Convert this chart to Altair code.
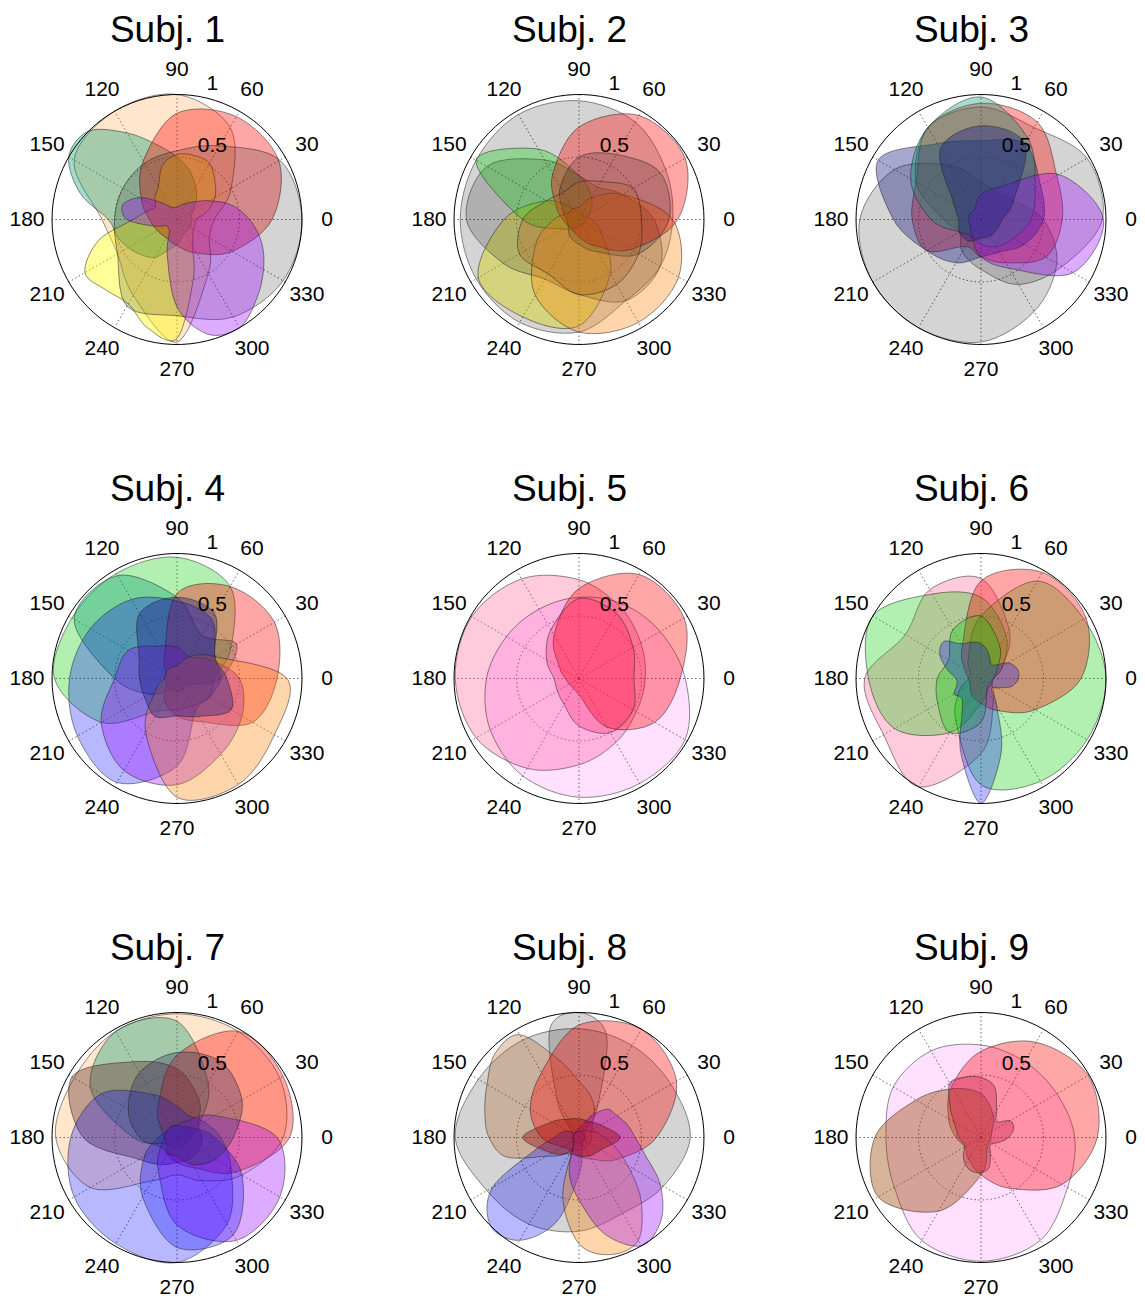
import altair as alt
import pandas as pd

FONT = "Liberation Sans, Arial, Helvetica, sans-serif"

TITLES = ["Subj. 1", "Subj. 2", "Subj. 3", "Subj. 4", "Subj. 5",
          "Subj. 6", "Subj. 7", "Subj. 8", "Subj. 9"]
SPOKE_ANGLES = [0, 30, 60, 90, 120, 150, 180, 210, 240, 270, 300, 330]
SPOKE_LABELS = ["0", "30", "60", "90", "120", "150", "180", "210", "240", "270", "300", "330"]
RING_VALUES = [0.5, 1.0]
RING_LABELS = ["0.5", "1"]

COLOR = {
    "red": "#ff0000", "gray": "#000000", "peach": "#ff8000", "teal": "#00996b",
    "yellow": "#ffff00", "purple": "#9900ff", "blue": "#0000ff", "navy": "#1a1a80",
    "green": "#00cc00", "orange": "#ff8000", "pink": "#ff6699", "lavender": "#ff00ff",
    "rose": "#ff0055", "brown": "#994400", "darkred": "#990000", "darkpink": "#cc2255",
    "slate": "#333366", "tan": "#b06020", "umber": "#663333",
}
ALPHA = {
    "red": 0.35, "gray": 0.17, "peach": 0.2, "teal": 0.35, "yellow": 0.4, "purple": 0.33,
    "blue": 0.28, "navy": 0.38, "green": 0.3, "orange": 0.33, "pink": 0.35, "lavender": 0.12,
    "rose": 0.24, "brown": 0.4, "darkred": 0.4, "darkpink": 0.4, "slate": 0.35, "tan": 0.3,
    "umber": 0.4,
}

# radii sampled at equally spaced angles starting at 0 deg (counter-clockwise)
SUBJ1 = [
    ("peach", [0.3, 0.5, 0.85, 1.0, 1.0, 0.95, 0.6, 0.55, 0.7, 0.98, 0.5, 0.3]),
    ("teal", [0.12, 0.12, 0.15, 0.22, 0.3, 0.4, 0.5, 0.62, 0.8, 1.0, 1.0, 0.8,
              0.55, 0.5, 0.45, 0.4, 0.35, 0.25, 0.2, 0.15, 0.12, 0.12, 0.12, 0.12]),
    ("yellow", [0.15, 0.25, 0.35, 0.43, 0.52, 0.53, 0.52, 0.45, 0.3, 0.25, 0.2, 0.25,
                0.35, 0.65, 0.85, 0.8, 0.78, 0.9, 0.95, 0.5, 0.25, 0.18, 0.15, 0.15]),
    ("red", [0.76, 0.94, 0.95, 0.85, 0.54, 0.33, 0.22, 0.18, 0.17, 0.21, 0.31, 0.51]),
    ("gray", [1.0, 0.95, 0.68, 0.55, 0.52, 0.5, 0.5, 0.55, 0.8, 0.77, 0.9, 0.98]),
    ("purple", [0.58, 0.45, 0.3, 0.2, 0.15, 0.12, 0.1, 0.1, 0.12, 0.2, 0.35, 0.45,
                0.4, 0.2, 0.1, 0.1, 0.12, 0.3, 0.7, 0.95, 1.0, 0.9, 0.8, 0.7]),
]
SUBJ2 = [
    ("yellow", [0.1, 0.05, 0.05, 0.05, 0.1, 0.3, 0.6, 0.93, 0.9, 0.85, 0.5, 0.2]),
    ("gray", [0.75, 0.8, 0.9, 0.95, 0.97, 0.95, 0.95, 0.95, 0.95, 0.9, 0.75, 0.75]),
    ("gray", [0.6, 0.4, 0.3, 0.35, 0.55, 0.85, 0.9, 0.7, 0.55, 0.6, 0.75, 0.75]),
    ("green", [0.05, 0.1, 0.2, 0.35, 0.65, 0.95, 0.45, 0.15, 0.08, 0.05, 0.05, 0.05]),
    ("orange", [0.75, 0.4, 0.2, 0.1, 0.1, 0.1, 0.2, 0.4, 0.7, 0.9, 0.95, 0.92]),
    ("red", [0.79, 0.98, 0.96, 0.74, 0.42, 0.21, 0.13, 0.1, 0.1, 0.14, 0.24, 0.48]),
    ("gray", [0.72, 0.75, 0.6, 0.5, 0.3, 0.15, 0.1, 0.1, 0.15, 0.2, 0.3, 0.55]),
    ("tan", [0.5, 0.5, 0.35, 0.3, 0.25, 0.3, 0.45, 0.55, 0.5, 0.6, 0.6, 0.55]),
]
SUBJ3 = [
    ("gray", [0.5, 0.3, 0.25, 0.3, 0.5, 0.8, 0.97, 1.0, 1.0, 0.98, 0.85, 0.7]),
    ("gray", [0.97, 0.98, 0.85, 0.9, 0.85, 0.6, 0.3, 0.2, 0.3, 0.4, 0.6, 0.75]),
    ("red", [0.65, 0.7, 0.9, 0.93, 0.85, 0.6, 0.55, 0.5, 0.25, 0.3, 0.4, 0.6]),
    ("navy", [0.5, 0.55, 0.7, 0.63, 0.7, 0.95, 0.7, 0.5, 0.4, 0.3, 0.3, 0.4]),
    ("teal", [0.4, 0.5, 0.75, 0.98, 0.85, 0.65, 0.4, 0.2, 0.15, 0.2, 0.25, 0.3]),
    ("purple", [0.98, 0.72, 0.3, 0.2, 0.1, 0.1, 0.1, 0.1, 0.15, 0.3, 0.45, 0.85]),
    ("navy", [0.17, 0.3, 0.7, 0.75, 0.65, 0.25, 0.18, 0.2, 0.2, 0.15, 0.15, 0.15]),
]
SUBJ4 = [
    ("green", [0.3, 0.5, 0.85, 0.97, 0.97, 0.97, 0.98, 0.7, 0.3, 0.25, 0.25, 0.3]),
    ("teal", [0.35, 0.55, 0.4, 0.65, 0.95, 0.95, 0.5, 0.25, 0.1, 0.1, 0.1, 0.1]),
    ("red", [0.8, 0.9, 0.85, 0.68, 0.2, 0.1, 0.1, 0.1, 0.2, 0.3, 0.4, 0.7]),
    ("blue", [0.35, 0.35, 0.55, 0.62, 0.73, 0.8, 0.86, 0.92, 0.96, 0.7, 0.3, 0.3]),
    ("purple", [0.5, 0.3, 0.2, 0.25, 0.3, 0.45, 0.5, 0.7, 0.85, 0.85, 0.7, 0.6]),
    ("orange", [0.88, 0.35, 0.2, 0.1, 0.1, 0.1, 0.1, 0.2, 0.5, 0.95, 0.98, 0.9]),
    ("navy", [0.4, 0.35, 0.6, 0.65, 0.6, 0.35, 0.3, 0.3, 0.35, 0.3, 0.35, 0.5]),
]
SUBJ5 = [
    ("pink", [0.53, 0.57, 0.66, 0.79, 0.92, 0.99, 0.99, 0.95, 0.83, 0.69, 0.59, 0.53]),
    ("lavender", [0.85, 0.75, 0.69, 0.65, 0.64, 0.67, 0.74, 0.82, 0.9, 0.95, 0.97, 0.98]),
    ("red", [0.81, 0.97, 0.96, 0.72, 0.4, 0.18, 0.11, 0.09, 0.09, 0.13, 0.45, 0.7]),
    ("rose", [0.44, 0.5, 0.6, 0.64, 0.45, 0.3, 0.2, 0.2, 0.24, 0.38, 0.5, 0.5]),
]
SUBJ6 = [
    ("pink", [0.1, 0.2, 0.45, 0.8, 0.82, 0.7, 0.93, 0.9, 1.0, 0.6, 0.2, 0.1]),
    ("green", [0.1, 0.2, 0.4, 0.65, 0.78, 1.0, 0.9, 0.8, 0.5, 0.2, 0.1, 0.1]),
    ("green", [1.0, 0.95, 0.9, 0.5, 0.2, 0.1, 0.1, 0.2, 0.4, 0.85, 0.95, 0.98]),
    ("red", [0.8, 0.97, 0.98, 0.78, 0.3, 0.15, 0.1, 0.1, 0.15, 0.2, 0.3, 0.5]),
    ("green", [0.1, 0.15, 0.3, 0.5, 0.45, 0.3, 0.35, 0.4, 0.5, 0.35, 0.1, 0.08]),
    ("blue", [0.3, 0.3, 0.25, 0.15, 0.15, 0.22, 0.28, 0.3, 0.32, 0.42, 0.38, 0.28,
              0.2, 0.2, 0.25, 0.22, 0.3, 0.62, 1.0, 0.62, 0.25, 0.12, 0.15, 0.25]),
]
SUBJ7 = [
    ("peach", [0.85, 0.95, 0.98, 0.99, 0.98, 0.95, 0.97, 0.8, 0.4, 0.3, 0.4, 0.6]),
    ("teal", [0.1, 0.2, 0.5, 0.93, 0.98, 0.8, 0.35, 0.1, 0.08, 0.08, 0.08, 0.08]),
    ("umber", [0.2, 0.2, 0.35, 0.55, 0.7, 0.97, 0.75, 0.35, 0.25, 0.2, 0.2, 0.2]),
    ("red", [0.9, 0.98, 0.98, 0.66, 0.3, 0.15, 0.1, 0.1, 0.15, 0.2, 0.28, 0.55]),
    ("blue", [0.35, 0.25, 0.2, 0.25, 0.4, 0.7, 0.85, 0.95, 0.98, 1.0, 0.8, 0.5]),
    ("purple", [0.8, 0.35, 0.15, 0.1, 0.1, 0.1, 0.1, 0.15, 0.3, 0.7, 0.95, 0.95]),
    ("blue", [0.3, 0.15, 0.1, 0.1, 0.1, 0.1, 0.15, 0.3, 0.55, 0.88, 0.9, 0.6]),
    ("slate", [0.45, 0.6, 0.7, 0.68, 0.6, 0.45, 0.3, 0.15, 0.15, 0.15, 0.25, 0.35]),
]
SUBJ8 = [
    ("gray", [0.89, 0.85, 0.85, 0.87, 0.9, 0.93, 0.99, 0.85, 0.8, 0.75, 0.7, 0.78]),
    ("gray", [0.05, 0.05, 0.05, 0.08, 0.3, 0.85, 1.0, 0.9, 0.35, 0.1, 0.05, 0.05,
              0.05, 0.05, 0.05, 0.05, 0.05, 0.05, 0.05, 0.05, 0.05, 0.05, 0.05, 0.05]),
    ("tan", [0.1, 0.1, 0.12, 0.15, 0.25, 0.35, 0.45, 0.65, 0.95, 0.95, 0.85, 0.78,
             0.72, 0.6, 0.3, 0.2, 0.12, 0.1, 0.1, 0.1, 0.1, 0.1, 0.1, 0.1]),
    ("red", [0.62, 0.9, 1.0, 0.9, 0.6, 0.45, 0.3, 0.15, 0.12, 0.15, 0.2, 0.35]),
    ("blue", [0.05, 0.05, 0.05, 0.05, 0.05, 0.05, 0.05, 0.05, 0.05, 0.05, 0.1, 0.15,
              0.2, 0.35, 0.8, 1.0, 0.95, 0.7, 0.3, 0.1, 0.05, 0.05, 0.05, 0.05]),
    ("orange", [0.2, 0.15, 0.1, 0.08, 0.06, 0.05, 0.05, 0.05, 0.05, 0.05, 0.05, 0.05,
                0.05, 0.05, 0.05, 0.06, 0.1, 0.5, 0.85, 0.97, 0.95, 0.7, 0.45, 0.3]),
    ("purple", [0.45, 0.4, 0.35, 0.32, 0.2, 0.1, 0.08, 0.06, 0.05, 0.05, 0.05, 0.05,
                0.05, 0.05, 0.05, 0.06, 0.1, 0.3, 0.5, 0.8, 1.0, 0.93, 0.75, 0.55]),
    ("darkred", [0.33, 0.2, 0.15, 0.15, 0.17, 0.25, 0.45, 0.25, 0.15, 0.15, 0.17, 0.2]),
]
SUBJ9 = [
    ("lavender", [0.75, 0.7, 0.7, 0.74, 0.8, 0.81, 0.76, 0.8, 0.95, 0.99, 0.95, 0.8]),
    ("red", [0.93, 0.99, 0.88, 0.69, 0.47, 0.3, 0.2, 0.15, 0.2, 0.3, 0.47, 0.75]),
    ("brown", [0.08, 0.1, 0.2, 0.35, 0.45, 0.6, 0.85, 0.95, 0.68, 0.3, 0.1, 0.08]),
    ("darkpink", [0.22, 0.27, 0.27, 0.18, 0.25, 0.42, 0.48, 0.5, 0.5, 0.35, 0.25, 0.2,
                  0.18, 0.15, 0.15, 0.2, 0.25, 0.28, 0.28, 0.25, 0.15, 0.1, 0.1, 0.15]),
]
SUBJECTS = [SUBJ1, SUBJ2, SUBJ3, SUBJ4, SUBJ5, SUBJ6, SUBJ7, SUBJ8, SUBJ9]

# layout (125 px per radial unit)
XMIN, XMAX, YMIN, YMAX = -1.352, 1.248, -1.3, 1.3
W, H = 325, 325
LABEL_R = 1.2

xs = alt.Scale(domain=[XMIN, XMAX], nice=False, zero=False)
ys = alt.Scale(domain=[YMIN, YMAX], nice=False, zero=False)
X = alt.X("x:Q", scale=xs, axis=None)
Y = alt.Y("y:Q", scale=ys, axis=None)
CALC_X = "datum.r * cos(datum.theta * PI / 180)"
CALC_Y = "datum.r * sin(datum.theta * PI / 180)"

ring_df = pd.DataFrame([{"ring": str(rv), "theta": t, "r": rv, "i": k}
                        for rv in RING_VALUES for k, t in enumerate(range(0, 360, 4))])
spoke_df = pd.DataFrame({"theta": SPOKE_ANGLES, "r": [1.0] * len(SPOKE_ANGLES)})
slabel_df = pd.DataFrame({"theta": SPOKE_ANGLES, "label": SPOKE_LABELS,
                          "r": [LABEL_R] * len(SPOKE_ANGLES)})
rlabel_df = pd.DataFrame({"r": RING_VALUES, "label": RING_LABELS,
                          "theta": [82] * len(RING_VALUES)})


def panel(title, blobs):
    rows = []
    for k, (cname, rs) in enumerate(blobs):
        n = len(rs)
        for i, r in enumerate(rs):
            rows.append({"blob": f"b{k:02d}", "i": i, "theta": 360.0 * i / n, "r": r,
                         "fill": COLOR[cname], "alpha": ALPHA[cname]})
    blob_df = pd.DataFrame(rows)

    inner = alt.Chart(ring_df).transform_filter("datum.r < 1").transform_calculate(
        x=CALC_X, y=CALC_Y).mark_line(
        interpolate="linear-closed", stroke="#555555", strokeWidth=0.9,
        strokeDash=[1.5, 2.5]).encode(x=X, y=Y, detail="ring:N", order="i:Q")
    spokes = alt.Chart(spoke_df).transform_calculate(
        x="0", y="0", x2=CALC_X, y2=CALC_Y).mark_rule(
        stroke="#555555", strokeWidth=0.9, strokeDash=[1.5, 2.5]).encode(
        x=X, y=Y, x2="x2:Q", y2="y2:Q")
    shapes = alt.Chart(blob_df).transform_calculate(x=CALC_X, y=CALC_Y).mark_line(
        interpolate="cardinal-closed", stroke="#222222", strokeWidth=0.8,
        strokeOpacity=0.65).encode(
        x=X, y=Y, detail="blob:N", order="i:Q",
        fill=alt.Fill("fill:N", scale=None),
        fillOpacity=alt.FillOpacity("alpha:Q", scale=None))
    outer = alt.Chart(ring_df).transform_filter("datum.r >= 1").transform_calculate(
        x=CALC_X, y=CALC_Y).mark_line(
        interpolate="linear-closed", stroke="#000000", strokeWidth=1.0).encode(
        x=X, y=Y, detail="ring:N", order="i:Q")
    slabels = alt.Chart(slabel_df).transform_calculate(x=CALC_X, y=CALC_Y).mark_text(
        font=FONT, fontSize=21, align="center", baseline="middle", color="black").encode(
        x=X, y=Y, text="label:N")
    rlabels = alt.Chart(rlabel_df).transform_calculate(x=CALC_X, y=CALC_Y).mark_text(
        font=FONT, fontSize=21, align="left", baseline="alphabetic", dx=12, dy=-6,
        color="black").encode(x=X, y=Y, text="label:N")

    return alt.layer(inner, spokes, shapes, outer, slabels, rlabels).properties(
        width=W, height=H,
        title=alt.TitleParams(text=title, fontSize=37, font=FONT, fontWeight="normal",
                              anchor="middle", dx=-3, offset=7, color="black"))


panels = [panel(t, b) for t, b in zip(TITLES, SUBJECTS)]
chart = alt.concat(*panels, columns=3, spacing={"row": 89, "column": 77}).properties(
    padding={"top": 4, "left": 0, "right": 0, "bottom": 0}).configure_view(stroke=None)

chart.save("out.html", embed_options={"renderer": "svg", "actions": False})
